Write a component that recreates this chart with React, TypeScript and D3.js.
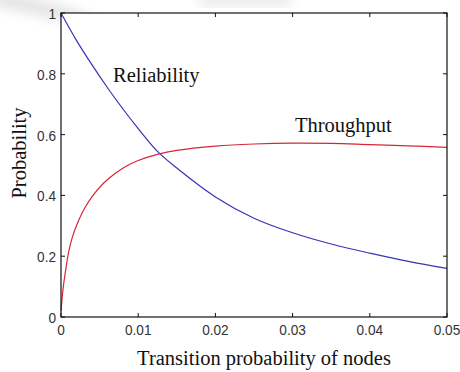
import React from "react";
import * as d3 from "d3";

const relX = [0, 0.002, 0.004, 0.006, 0.008, 0.01, 0.0125, 0.015, 0.02, 0.025, 0.03, 0.035, 0.04, 0.045, 0.05];
const reliability = [1.0, 0.91, 0.83, 0.755, 0.685, 0.62, 0.545, 0.49, 0.395, 0.325, 0.277, 0.24, 0.21, 0.183, 0.16];
const thrX = [0, 0.0003, 0.0007, 0.001, 0.0015, 0.002, 0.003, 0.004, 0.0055, 0.007, 0.0085, 0.01, 0.0125, 0.015, 0.02, 0.025, 0.03, 0.035, 0.04, 0.045, 0.05];
const throughput = [0.02, 0.1, 0.17, 0.215, 0.265, 0.3, 0.355, 0.395, 0.44, 0.472, 0.497, 0.515, 0.535, 0.548, 0.562, 0.569, 0.572, 0.571, 0.567, 0.563, 0.558];
const xTicks = [0, 0.01, 0.02, 0.03, 0.04, 0.05];
const xTickLabels = ["0", "0.01", "0.02", "0.03", "0.04", "0.05"];
const yTicks = [0, 0.2, 0.4, 0.6, 0.8, 1];
const yTickLabels = ["0", "0.2", "0.4", "0.6", "0.8", "1"];

export default function App() {
  const W = 460, H = 372;
  const left = 61, right = 447, top = 13, bottom = 317;
  const x = d3.scaleLinear().domain([0, 0.05]).range([left, right]);
  const y = d3.scaleLinear().domain([0, 1]).range([bottom, top]);
  const line = (xs: number[], vals: number[]) =>
    d3.line<number>().x((_, i) => x(xs[i])).y((d) => y(d)).curve(d3.curveCatmullRom.alpha(0.5))(vals) || "";
  const tickFont = "'Liberation Sans', Arial, sans-serif";
  const serif = "'Liberation Serif', 'Times New Roman', serif";
  const fs = 20.5;
  return (
    <svg width={W} height={H} style={{ position: "absolute", left: 0, top: 0, background: "#fff" }}>
      <defs>
        <filter id="blur"><feGaussianBlur stdDeviation="6" /></filter>
      </defs>
      <path d="M -10 5 L 60 20 L 130 45 L 140 38 L 70 8 L 0 -10 Z" fill="#d8d8d8" filter="url(#blur)" opacity={0.7} />
      <path d="M 200 -5 L 290 -5 L 290 6 L 200 6 Z" fill="#d8d8d8" filter="url(#blur)" opacity={0.6} />
      <rect x={left} y={top} width={right - left} height={bottom - top} fill="#fff" />
      <path d={line(relX, reliability)} fill="none" stroke="#3535b5" strokeWidth={1.2} />
      <path d={line(thrX, throughput)} fill="none" stroke="#d42838" strokeWidth={1.2} />
      <rect x={left} y={top} width={right - left} height={bottom - top} fill="none" stroke="#111" strokeWidth={1.2} />
      {xTicks.map((t, i) => (
        <g key={"x" + i}>
          <line x1={x(t)} x2={x(t)} y1={bottom} y2={bottom - 4} stroke="#111" />
          <line x1={x(t)} x2={x(t)} y1={top} y2={top + 4} stroke="#111" />
          <g transform={`translate(${x(t)},${bottom + 18}) scale(0.88,1)`}>
            <text x={0} y={0} textAnchor="middle" fontFamily={tickFont} fontSize={15.5} fill="#333">
              {xTickLabels[i]}
            </text>
          </g>
        </g>
      ))}
      {yTicks.map((t, i) => (
        <g key={"y" + i}>
          <line x1={left} x2={left + 4} y1={y(t)} y2={y(t)} stroke="#111" />
          <line x1={right} x2={right - 4} y1={y(t)} y2={y(t)} stroke="#111" />
          <g transform={`translate(${left - 5},${y(t) + 6}) scale(0.88,1)`}>
            <text x={0} y={0} textAnchor="end" fontFamily={tickFont} fontSize={15.5} fill="#333">
              {yTickLabels[i]}
            </text>
          </g>
        </g>
      ))}
      <text x={113} y={82} fontFamily={serif} fontSize={fs} fill="#111">Reliability</text>
      <text x={295} y={132} fontFamily={serif} fontSize={fs} fill="#111">Throughput</text>
      <text x={264} y={365} textAnchor="middle" fontFamily={serif} fontSize={fs} fill="#111">
        Transition probability of nodes
      </text>
      <text transform="translate(26,153) rotate(-90)" textAnchor="middle" fontFamily={serif} fontSize={fs} fill="#111">
        Probability
      </text>
    </svg>
  );
}
